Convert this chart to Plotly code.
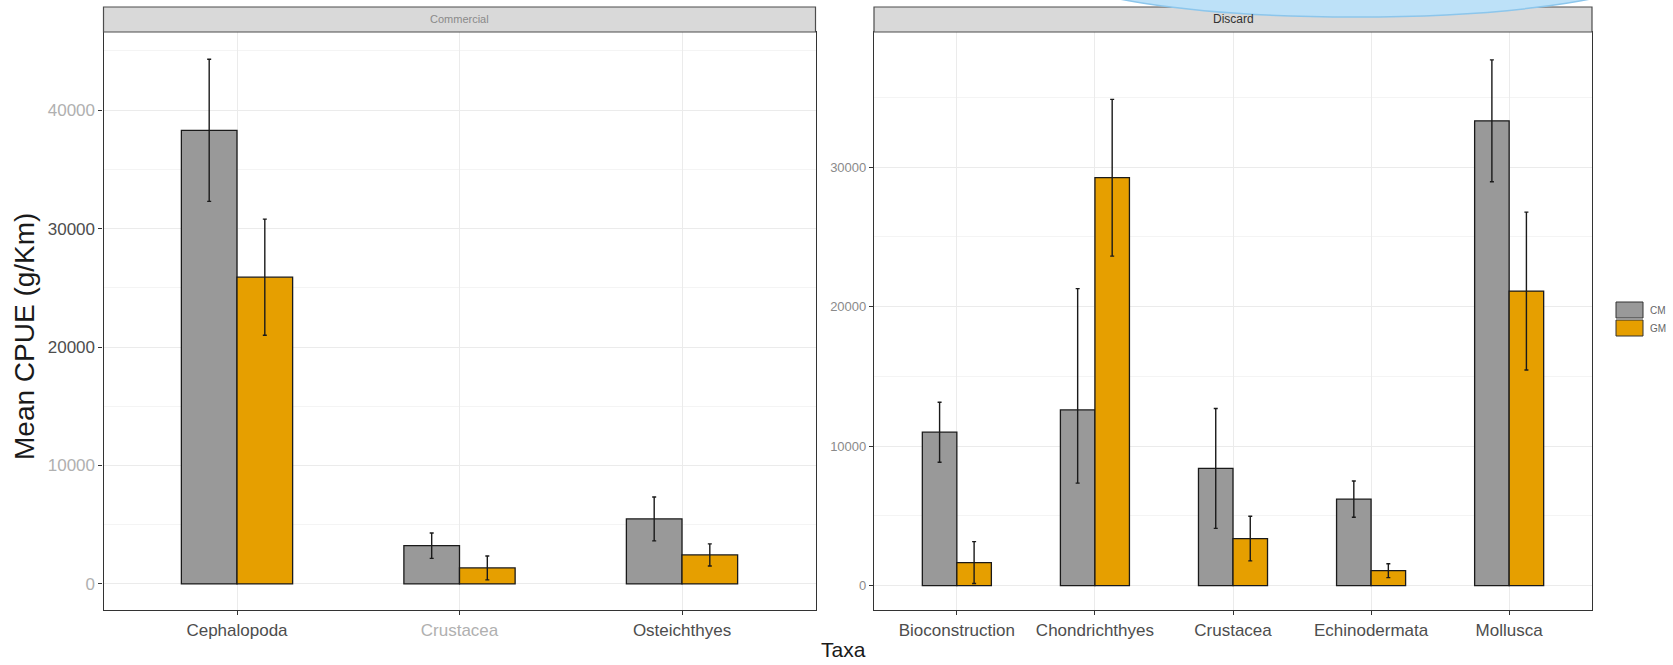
import plotly.graph_objects as go

W, H = 1673, 665

# Group colours (CM / GM)
group_names = ["CM", "GM"]
group_colors = ["#999999", "#E69F00"]

# Commercial catch: mean CPUE and error (upper / lower) per taxon
commercial_taxa = ["Cephalopoda", "Crustacea", "Osteichthyes"]
commercial_cm_mean = [38300, 3230, 5490]
commercial_cm_err_up = [6000, 1070, 1850]
commercial_cm_err_down = [6000, 1070, 1850]
commercial_gm_mean = [25900, 1350, 2450]
commercial_gm_err_up = [4900, 1010, 930]
commercial_gm_err_down = [4900, 1010, 930]

# Discard: mean CPUE and error (upper / lower) per taxon
discard_taxa = ["Bioconstruction", "Chondrichthyes", "Crustacea", "Echinodermata", "Mollusca"]
discard_cm_mean = [11000, 12600, 8400, 6200, 33330]
discard_cm_err_up = [2150, 8700, 4300, 1300, 4370]
discard_cm_err_down = [2150, 5250, 4300, 1300, 4370]
discard_gm_mean = [1650, 29250, 3370, 1070, 21120]
discard_gm_err_up = [1500, 5620, 1600, 500, 5660]
discard_gm_err_down = [1500, 5620, 1600, 500, 5660]

commercial_ticks = [0, 10000, 20000, 30000, 40000]
discard_ticks = [0, 10000, 20000, 30000]


def px_x(v):
    return v / W


def px_y(v):
    return 1 - v / H


left_dom = [px_x(103.5), px_x(815.5)]
right_dom = [px_x(874), px_x(1592)]
y_dom = [px_y(610), px_y(32)]

fig = go.Figure()

panels = [
    ("x", "y", commercial_taxa,
     [commercial_cm_mean, commercial_gm_mean],
     [commercial_cm_err_up, commercial_gm_err_up],
     [commercial_cm_err_down, commercial_gm_err_down]),
    ("x2", "y2", discard_taxa,
     [discard_cm_mean, discard_gm_mean],
     [discard_cm_err_up, discard_gm_err_up],
     [discard_cm_err_down, discard_gm_err_down]),
]
for xa, ya, taxa, means, ups, downs in panels:
    for name, color, m, up, dn in zip(group_names, group_colors, means, ups, downs):
        fig.add_trace(go.Bar(
            x=taxa, y=m, name=name, xaxis=xa, yaxis=ya, offsetgroup=name,
            marker=dict(color=color, line=dict(color="#1a1a1a", width=1.3)),
            error_y=dict(type="data", array=up, arrayminus=dn, symmetric=False,
                         color="#1a1a1a", thickness=1.4, width=2),
            showlegend=False,
        ))

grid = "#ebebeb"
axis_common = dict(showline=True, mirror=True, linecolor="#333333", linewidth=1.2,
                   ticks="outside", ticklen=4, tickcolor="#333333",
                   zeroline=False, fixedrange=True)

faint = "#b0b0b0"
dark = "#4d4d4d"
commercial_tick_text = [
    f'<span style="color:{faint}">{t}</span>' if t in (0, 10000, 40000) else str(t)
    for t in commercial_ticks
]
commercial_x_text = [
    f'<span style="color:{faint}">{t}</span>' if t == "Crustacea" else t
    for t in commercial_taxa
]

fig.update_layout(
    width=W, height=H,
    margin=dict(l=0, r=0, t=0, b=0),
    paper_bgcolor="white", plot_bgcolor="white",
    barmode="group", bargap=0.5, bargroupgap=0,
    font=dict(family="Liberation Sans, Arial, sans-serif", color=dark),
    xaxis=dict(domain=left_dom, anchor="y", type="category",
               range=[-0.6, len(commercial_taxa) - 0.4],
               tickvals=commercial_taxa, ticktext=commercial_x_text,
               showgrid=True, gridcolor=grid, gridwidth=1,
               tickfont=dict(size=17, color=dark), **axis_common),
    yaxis=dict(domain=y_dom, anchor="x", range=[-2200, 46600],
               tickvals=commercial_ticks, ticktext=commercial_tick_text,
               showgrid=True, gridcolor=grid, gridwidth=1,
               minor=dict(dtick=5000, tick0=5000, showgrid=True, gridcolor="#f4f4f4", ticks=""),
               tickfont=dict(size=17, color=dark), **axis_common),
    xaxis2=dict(domain=right_dom, anchor="y2", type="category",
                range=[-0.6, len(discard_taxa) - 0.4],
                showgrid=True, gridcolor=grid, gridwidth=1,
                tickfont=dict(size=17, color=dark), **axis_common),
    yaxis2=dict(domain=y_dom, anchor="x2", range=[-1750, 39700],
                tickvals=discard_ticks, ticktext=[str(t) for t in discard_ticks],
                showgrid=True, gridcolor=grid, gridwidth=1,
                minor=dict(dtick=5000, tick0=5000, showgrid=True, gridcolor="#f4f4f4", ticks=""),
                tickfont=dict(size=13, color="#8a8a8a"), **axis_common),
)

shapes = []
annotations = []

# Facet strips
for dom, label, size, col in [(left_dom, "Commercial", 11, "#8a8a8a"),
                              (right_dom, "Discard", 12, "#333333")]:
    shapes.append(dict(type="rect", xref="paper", yref="paper",
                       x0=dom[0], x1=dom[1], y0=y_dom[1], y1=px_y(7),
                       fillcolor="#d9d9d9", line=dict(color="#4d4d4d", width=1.2)))
    annotations.append(dict(xref="paper", yref="paper", x=(dom[0] + dom[1]) / 2,
                            y=px_y(19.5), text=label, showarrow=False,
                            xanchor="center", yanchor="middle",
                            font=dict(size=size, color=col)))

# Manual legend keys
key_rows = [(302, 318), (320, 336)]
for (y0, y1), name, color in zip(key_rows, group_names, group_colors):
    shapes.append(dict(type="rect", xref="paper", yref="paper",
                       x0=px_x(1616), x1=px_x(1643), y0=px_y(y1), y1=px_y(y0),
                       fillcolor=color, line=dict(color="#333333", width=1)))
    annotations.append(dict(xref="paper", yref="paper", x=px_x(1648),
                            y=px_y((y0 + y1) / 2), text=name, showarrow=False,
                            xanchor="left", yanchor="middle",
                            font=dict(size=10, color="#666666")))

# Decorative light-blue ellipse at the top edge
shapes.append(dict(type="circle", xref="paper", yref="paper", layer="above",
                   x0=px_x(1056), x1=px_x(1654), y0=px_y(17), y1=px_y(-77),
                   fillcolor="#bde1f8", line=dict(color="#8cc6ec", width=1.5)))

# Axis titles
annotations.append(dict(xref="paper", yref="paper", x=px_x(24), y=px_y(337),
                        text="Mean CPUE (g/Km)", showarrow=False, textangle=-90,
                        xanchor="center", yanchor="middle",
                        font=dict(size=28, color="#1a1a1a")))
annotations.append(dict(xref="paper", yref="paper", x=px_x(843), y=px_y(649),
                        text="Taxa", showarrow=False,
                        xanchor="center", yanchor="middle",
                        font=dict(size=21, color="#1a1a1a")))

fig.update_layout(shapes=shapes, annotations=annotations)

fig.write_html("out.html")
